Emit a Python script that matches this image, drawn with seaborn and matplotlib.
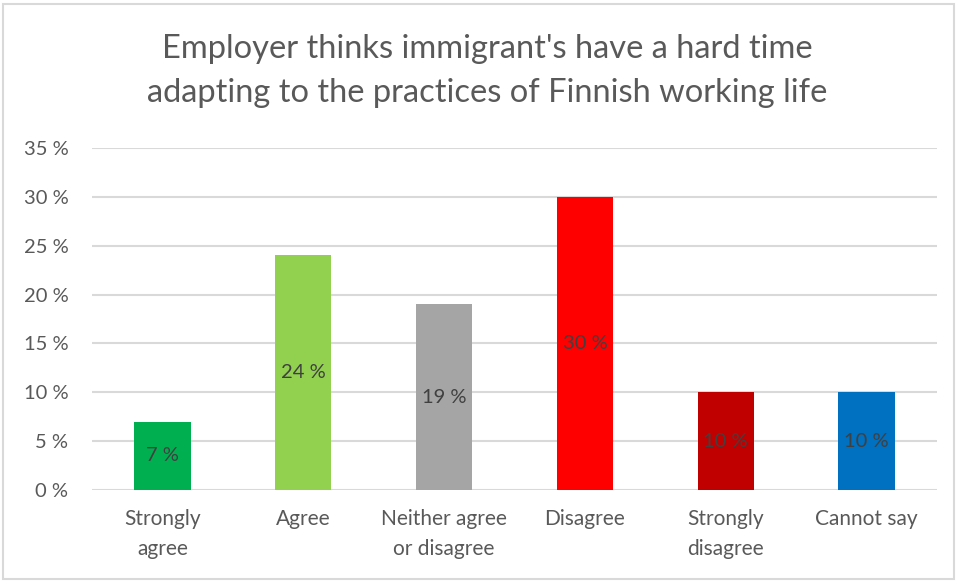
import matplotlib
matplotlib.use("Agg")
import matplotlib.pyplot as plt
from matplotlib.patches import Rectangle
from matplotlib.ticker import MultipleLocator, FuncFormatter
import seaborn as sns
import pandas as pd

# Survey responses (share of employers)
categories = ["Strongly\nagree", "Agree", "Neither agree\nor disagree",
              "Disagree", "Strongly\ndisagree", "Cannot say"]
shares = [7, 24, 19, 30, 10, 10]
bar_colors = ["#00B050", "#92D050", "#A5A5A5", "#FF0000", "#C00000", "#0070C0"]
title = "Employer thinks immigrant's have a hard time\nadapting to the practices of Finnish working life"

sns.set_theme(style="white")
plt.rcParams["font.family"] = ["Lato", "DejaVu Sans"]

df = pd.DataFrame({"category": categories, "share": shares})

fig = plt.figure(figsize=(9.57, 5.81), dpi=100)
ax = fig.add_axes([92 / 957, 91 / 581, 845 / 957, 342 / 581])

sns.barplot(data=df, x="category", y="share", hue="category",
            palette=bar_colors, width=0.4, legend=False, ax=ax,
            saturation=1, edgecolor="none")

ax.set_ylim(0, 35)
ax.set_xlim(-0.5, len(categories) - 0.5)
ax.yaxis.set_major_locator(MultipleLocator(5))
ax.yaxis.set_major_formatter(FuncFormatter(lambda v, _: f"{v:.0f} %"))
ax.grid(axis="y", color="#D9D9D9", linewidth=1.5)
ax.set_axisbelow(True)
for s in ax.spines.values():
    s.set_visible(False)
ax.set_xlabel("")
ax.set_ylabel("")
ax.tick_params(axis="y", length=0, pad=17, labelsize=14.5, labelcolor="#595959")
ax.tick_params(axis="x", length=0, pad=14, labelsize=15, labelcolor="#595959")
for lbl in ax.get_xticklabels():
    lbl.set_linespacing(1.6)

# Value labels centred inside each bar
for i, v in enumerate(shares):
    ax.text(i, v / 2, f"{v} %", ha="center", va="center",
            fontsize=14.5, color="#404040")

fig.text(487 / 957, 1 - 71 / 581, title, ha="center", va="center",
         fontsize=23.5, color="#595959", linespacing=1.55)

# Chart area frame
fig.patches.append(Rectangle((3 / 957, 2 / 581), 951 / 957, 575 / 581,
                             transform=fig.transFigure, fill=False,
                             edgecolor="#D9D9D9", linewidth=1.5))

fig.savefig("out.png", dpi=100)
